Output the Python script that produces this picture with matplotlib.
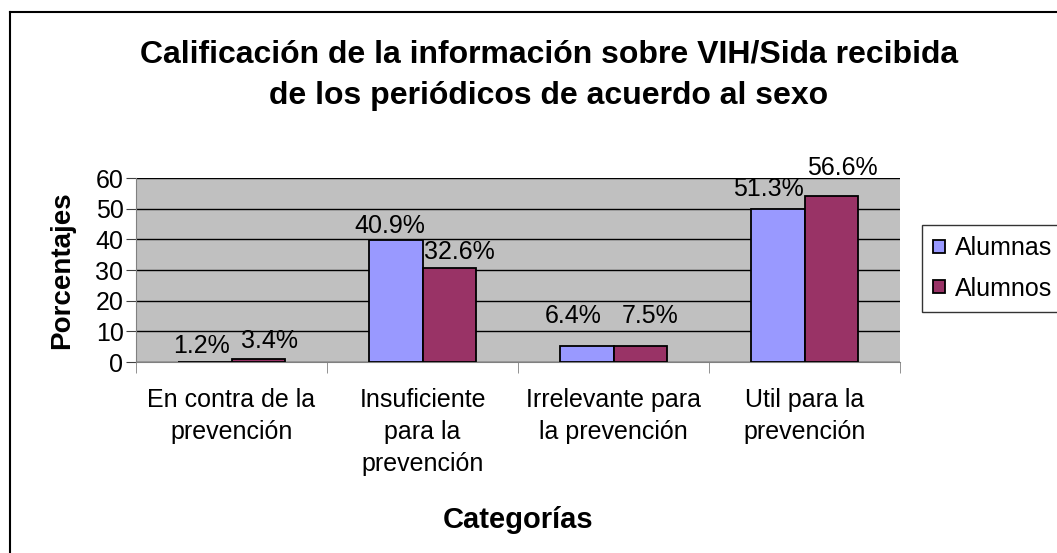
import matplotlib
matplotlib.use("Agg")
import matplotlib.pyplot as plt
import numpy as np
from matplotlib.lines import Line2D

plt.rcParams['font.family'] = ['Liberation Sans', 'DejaVu Sans']

categories = ["En contra de la\nprevención", "Insuficiente\npara la\nprevención",
              "Irrelevante para\nla prevención", "Util para la\nprevención"]
series_names = ["Alumnas", "Alumnos"]
alumnas = [0.0, 39.8, 5.2, 49.8]
alumnos = [1.0, 30.5, 5.1, 54.0]
labels_alumnas = ["1.2%", "40.9%", "6.4%", "51.3%"]
labels_alumnos = ["3.4%", "32.6%", "7.5%", "56.6%"]
label_y_alumnas = [5.3, 44.5, 15.0, 56.4]
label_y_alumnos = [7.0, 35.9, 15.0, 63.4]
yticks = [0, 10, 20, 30, 40, 50, 60]

col_a = "#9999FF"
col_o = "#993366"
FS = 18

fig = plt.figure(figsize=(10.57, 5.53), dpi=100)
ax = fig.add_axes([136/1057, 1-362/553, (900-136)/1057, (362-178)/553])
ax.set_facecolor("#C0C0C0")

x = np.arange(len(categories))
w = 0.28
ax.bar(x - w/2, alumnas, w, color=col_a, edgecolor="black", linewidth=1.3, zorder=3, label=series_names[0])
ax.bar(x + w/2, alumnos, w, color=col_o, edgecolor="black", linewidth=1.3, zorder=3, label=series_names[1])

# horizontal nudges of the value labels (in points)
dx_a = [-2, -4, -10, -7]
dx_o = [8, 7, 7, 8]
for i in range(len(categories)):
    ax.annotate(labels_alumnas[i], (x[i] - w/2, label_y_alumnas[i]), xytext=(dx_a[i], 0),
                textcoords="offset points", ha="center", va="center",
                fontsize=FS, zorder=4, annotation_clip=False)
    ax.annotate(labels_alumnos[i], (x[i] + w/2, label_y_alumnos[i]), xytext=(dx_o[i], 0),
                textcoords="offset points", ha="center", va="center",
                fontsize=FS, zorder=4, annotation_clip=False)

ax.set_xlim(-0.5, len(categories) - 0.5)
ax.set_ylim(0, 60)
ax.set_yticks(yticks)
ax.set_yticklabels([str(t) for t in yticks], fontsize=FS)
ax.yaxis.grid(True, color="black", linewidth=1.0, zorder=1)
ax.set_axisbelow(True)
ax.set_xticks(x)
ax.set_xticklabels(categories, fontsize=FS, linespacing=1.42)
ax.set_xticks(np.arange(-0.5, len(categories)), minor=True)
ax.tick_params(axis="x", which="major", length=0, pad=19)
ax.tick_params(axis="x", which="minor", length=8, direction="out", color="#808080")
ax.tick_params(axis="y", length=7, direction="out", pad=2, color="#404040")
for s in ["top", "right"]:
    ax.spines[s].set_visible(False)
ax.spines["left"].set_color("#808080")
ax.spines["bottom"].set_color("#808080")

ax.set_ylabel("Porcentajes", fontsize=20, fontweight="bold", labelpad=15)
ax.set_xlabel("Categorías", fontsize=21, fontweight="bold", labelpad=21)

fig.text(549/1057, 1-63/553, "Calificación de la información sobre VIH/Sida recibida",
         ha="center", va="baseline", fontsize=23, fontweight="bold")
fig.text(549/1057, 1-104/553, "de los periódicos de acuerdo al sexo",
         ha="center", va="baseline", fontsize=23, fontweight="bold")

leg = fig.legend(loc="upper left", bbox_to_anchor=(922/1057, 1-225/553), fontsize=FS,
                 frameon=True, fancybox=False, edgecolor="black", handlelength=0.45,
                 handleheight=0.45, handletextpad=0.4, borderpad=0.45, labelspacing=0.65,
                 borderaxespad=0)
leg.get_frame().set_linewidth(1.0)

fig.add_artist(Line2D([10/1057, 1], [1-12/553, 1-12/553], color="black", linewidth=1.5, transform=fig.transFigure))
fig.add_artist(Line2D([10/1057, 10/1057], [0, 1-12/553], color="black", linewidth=1.5, transform=fig.transFigure))

fig.savefig("out.png", dpi=100)
